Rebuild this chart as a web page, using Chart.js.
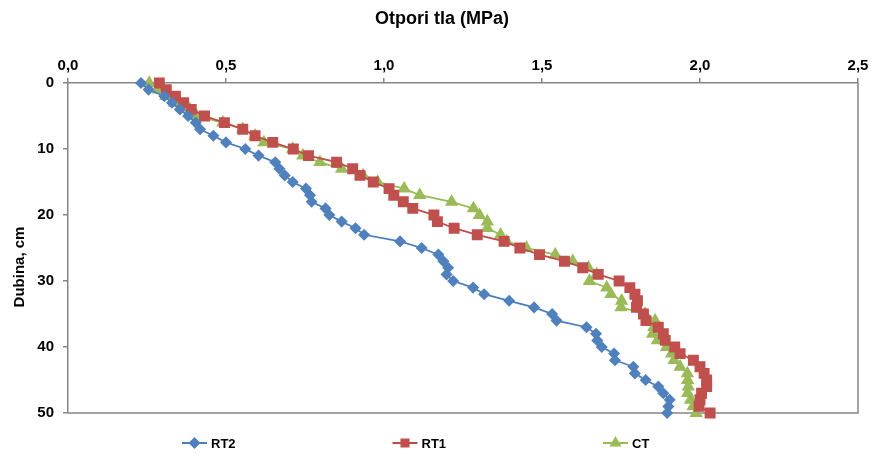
<!DOCTYPE html>
<html lang="en">
<head>
<meta charset="UTF-8">
<title>Otpori tla</title>
<script src="https://cdn.jsdelivr.net/npm/chart.js@4.4.0/dist/chart.umd.min.js"></script>
<style>
  html, body { margin: 0; padding: 0; background: #fff; }
  .chart-box { position: relative; width: 874px; height: 454px; }
</style>
</head>
<body>
<div class="chart-box"><canvas id="chart"></canvas></div>
<script>
// depth in cm (y axis, reversed)
const depths = [0, 1, 2, 3, 4, 5, 6, 7, 8, 9, 10, 11, 12, 13, 14, 15, 16, 17, 18, 19, 20,
  21, 22, 23, 24, 25, 26, 27, 28, 29, 30, 31, 32, 33, 34, 35, 36, 37, 38, 39, 40,
  41, 42, 43, 44, 45, 46, 47, 48, 49, 50];

// soil resistance in MPa, one value per depth
const rt2 = [0.231, 0.255, 0.305, 0.329, 0.354, 0.380, 0.404, 0.418, 0.460, 0.500,
  0.561, 0.603, 0.656, 0.669, 0.686, 0.711, 0.753, 0.766, 0.771, 0.815,
  0.827, 0.866, 0.910, 0.937, 1.051, 1.119, 1.172, 1.188, 1.203, 1.198,
  1.219, 1.282, 1.317, 1.396, 1.475, 1.532, 1.546, 1.641, 1.671, 1.675,
  1.689, 1.728, 1.731, 1.789, 1.794, 1.828, 1.868, 1.884, 1.904, 1.900, 1.896];
const rt1 = [0.289, 0.311, 0.340, 0.366, 0.390, 0.432, 0.495, 0.553, 0.592, 0.648,
  0.713, 0.761, 0.850, 0.901, 0.924, 0.966, 1.016, 1.031, 1.061, 1.091,
  1.158, 1.169, 1.222, 1.295, 1.380, 1.430, 1.492, 1.571, 1.629, 1.678,
  1.744, 1.778, 1.794, 1.802, 1.799, 1.821, 1.829, 1.868, 1.884, 1.890,
  1.920, 1.937, 1.979, 2.000, 2.013, 2.021, 2.021, 2.005, 2.000, 1.997, 2.032];
const ct = [0.257, 0.286, 0.310, 0.337, 0.386, 0.408, 0.490, 0.553, 0.592, 0.620,
  0.711, 0.743, 0.797, 0.866, 0.934, 0.980, 1.064, 1.113, 1.214, 1.283,
  1.302, 1.327, 1.327, 1.369, 1.388, 1.451, 1.542, 1.597, 1.647, 1.673,
  1.650, 1.705, 1.718, 1.752, 1.750, 1.826, 1.858, 1.854, 1.850, 1.865,
  1.894, 1.910, 1.918, 1.937, 1.960, 1.961, 1.963, 1.961, 1.970, 1.978, 1.988];

const seriesNames = ['RT2', 'RT1', 'CT'];
const xTicks = [0, 0.5, 1, 1.5, 2, 2.5];
const yTicks = [0, 10, 20, 30, 40, 50];
const chartTitle = 'Otpori tla (MPa)';
const yTitle = 'Dubina, cm';

const font = "'Liberation Sans', Arial, sans-serif";
const axisGray = '#868686';

const toPoints = vals => depths.map((d, i) => ({ x: vals[i], y: d }));

// right and bottom edge of the plot box, plus the two titles
const plotFrame = {
  id: 'plotFrame',
  beforeDatasetsDraw(chart) {
    const { ctx, chartArea: a } = chart;
    ctx.save();
    ctx.strokeStyle = axisGray;
    ctx.lineWidth = 1.5;
    ctx.beginPath();
    ctx.moveTo(a.right, a.top);
    ctx.lineTo(a.right, a.bottom);
    ctx.lineTo(a.left, a.bottom);
    ctx.stroke();
    ctx.fillStyle = '#000';
    ctx.textAlign = 'center';
    ctx.textBaseline = 'middle';
    ctx.font = 'bold 18px ' + font;
    ctx.fillText(chartTitle, 442, 19);
    // y title sits a bit below the plot middle, as in the original
    ctx.translate(20, 267);
    ctx.rotate(-Math.PI / 2);
    ctx.font = 'bold 15px ' + font;
    ctx.fillText(yTitle, 0, 0);
    ctx.restore();
  }
};

// legend below the plot: short line with marker, then name
const bottomLegend = {
  id: 'bottomLegend',
  afterDraw(chart) {
    const { ctx, chartArea: a } = chart;
    const y = 443;
    const legendRadius = [4.5, 5, 5];
    ctx.save();
    chart.data.datasets.forEach((ds, i) => {
      const x0 = a.left + 114 + i * 210.5;
      ctx.strokeStyle = ds.borderColor;
      ctx.lineWidth = 2;
      ctx.beginPath();
      ctx.moveTo(x0, y);
      ctx.lineTo(x0 + 25, y);
      ctx.stroke();
      ctx.fillStyle = ds.pointBackgroundColor;
      ctx.strokeStyle = ds.pointBackgroundColor;
      Chart.helpers.drawPoint(ctx, {
        pointStyle: ds.pointStyle, radius: legendRadius[i], rotation: 0, borderWidth: 1
      }, x0 + 12.5, y);
      ctx.fillStyle = '#000';
      ctx.font = 'bold 13px ' + font;
      ctx.textAlign = 'left';
      ctx.textBaseline = 'middle';
      ctx.fillText(ds.label, x0 + 29, y + 1);
    });
    ctx.restore();
  }
};

new Chart(document.getElementById('chart'), {
  type: 'scatter',
  data: {
    datasets: [
      {
        label: seriesNames[0],
        data: toPoints(rt2),
        showLine: true,
        borderColor: '#4A7EBB',
        borderWidth: 1.75,
        pointStyle: 'rectRot',
        pointRadius: 4.8,
        pointBackgroundColor: '#4F81BD',
        pointBorderColor: '#4F81BD',
        clip: false
      },
      {
        label: seriesNames[1],
        data: toPoints(rt1),
        showLine: true,
        borderColor: '#BE4B48',
        borderWidth: 1.75,
        pointStyle: 'rect',
        pointRadius: 6.5,
        pointBackgroundColor: '#C0504D',
        pointBorderColor: '#C0504D',
        clip: false
      },
      {
        label: seriesNames[2],
        data: toPoints(ct),
        showLine: true,
        borderColor: '#98B954',
        borderWidth: 1.75,
        pointStyle: 'triangle',
        pointRadius: 6,
        pointBackgroundColor: '#9BBB59',
        pointBorderColor: '#9BBB59',
        clip: false
      }
    ]
  },
  options: {
    responsive: true,
    maintainAspectRatio: false,
    animation: false,
    layout: { padding: { top: 57, right: 16, bottom: 41, left: 5 } },
    plugins: {
      legend: { display: false },
      tooltip: { enabled: false },
      title: { display: false }
    },
    scales: {
      x: {
        type: 'linear',
        position: 'top',
        min: 0,
        max: 2.5,
        afterBuildTicks: axis => { axis.ticks = xTicks.map(v => ({ value: v })); },
        afterFit: axis => { axis.height = 26; },
        border: { color: axisGray, width: 1.5 },
        grid: { drawOnChartArea: false, color: axisGray, lineWidth: 1.5, tickLength: 5 },
        ticks: {
          color: '#000',
          padding: 3,
          maxRotation: 0,
          font: { family: font, size: 15, weight: 'bold' },
          callback: v => v.toFixed(1).replace('.', ',')
        }
      },
      y: {
        type: 'linear',
        reverse: true,
        min: 0,
        max: 50,
        afterBuildTicks: axis => { axis.ticks = yTicks.map(v => ({ value: v })); },
        afterFit: axis => { axis.width = 63; },
        border: { color: axisGray, width: 1.5 },
        grid: { drawOnChartArea: false, color: axisGray, lineWidth: 1.5, tickLength: 5 },
        ticks: {
          color: '#000',
          padding: 9,
          font: { family: font, size: 15, weight: 'bold' }
        }
      }
    }
  },
  plugins: [plotFrame, bottomLegend]
});
</script>
</body>
</html>
